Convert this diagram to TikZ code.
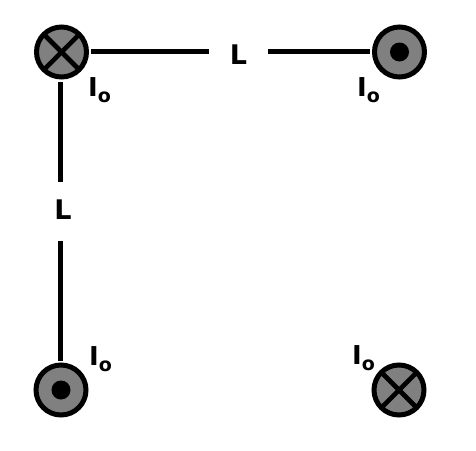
\documentclass[tikz,border=0pt]{standalone}
\usepackage{fontspec}
\setmainfont{DejaVu Sans}
\definecolor{wirefill}{gray}{0.5}
\newcommand{\curr}{I{\fontsize{19}{19}\selectfont\raisebox{-6pt}{o}}}
\begin{document}
\begin{tikzpicture}[x=1pt,y=-1pt,
  wire/.style={draw=black,fill=wirefill,line width=5pt,circle,minimum size=50pt,inner sep=0pt,outer sep=0pt},
  lab/.style={font=\bfseries\fontsize{26}{26}\selectfont,inner sep=0pt},
  gap/.style={inner sep=0pt,outer sep=0pt,font=\bfseries\fontsize{27}{27}\selectfont},
  conn/.style={line width=4.4pt,draw=black},
  cross/.style={line width=4.6pt,draw=black},
  dot/.style={fill=black,circle,minimum size=19pt,inner sep=0pt}]
\useasboundingbox (0,0) rectangle (476,450);
\fill[white] (0,0) rectangle (476,450);
\node[wire] (a) at (61.5,52) {};
\node[wire] (b) at (399.5,52) {};
\node[wire] (c) at (61,390) {};
\node[wire] (d) at (399,390) {};
\draw[cross] (a.north west) -- (a.south east);
\draw[cross] (a.north east) -- (a.south west);
\draw[cross] (d.north west) -- (d.south east);
\draw[cross] (d.north east) -- (d.south west);
\node[dot] (bd) at (b) {};
\node[dot] (cd) at (c) {};
\node[gap,minimum width=59pt] (lh) at (238.5,51.5) {\raisebox{-12.5pt}[0pt][0pt]{L}};
\node[gap,minimum height=59pt] (lv) at (60.5,211.5) {\hspace*{5pt}\raisebox{-7.5pt}[0pt][0pt]{L}};
\draw[conn,shorten <=4.5pt] (a.east |- lh.west) -- (lh.west);
\draw[conn,shorten >=4.5pt] (lh.east) -- (b.west |- lh.east);
\draw[conn,shorten <=4.5pt] (lv.north |- a.south) -- (lv.north);
\draw[conn,shorten >=4pt] (lv.south) -- (lv.south |- c.north);
\node[lab] (i1) at (99.5,90) {\curr};
\node[lab] (i2) at (368.5,90) {\curr};
\node[lab] (i3) at (100.5,359) {\curr};
\node[lab] (i4) at (363.5,358) {\curr};
\end{tikzpicture}
\end{document}
